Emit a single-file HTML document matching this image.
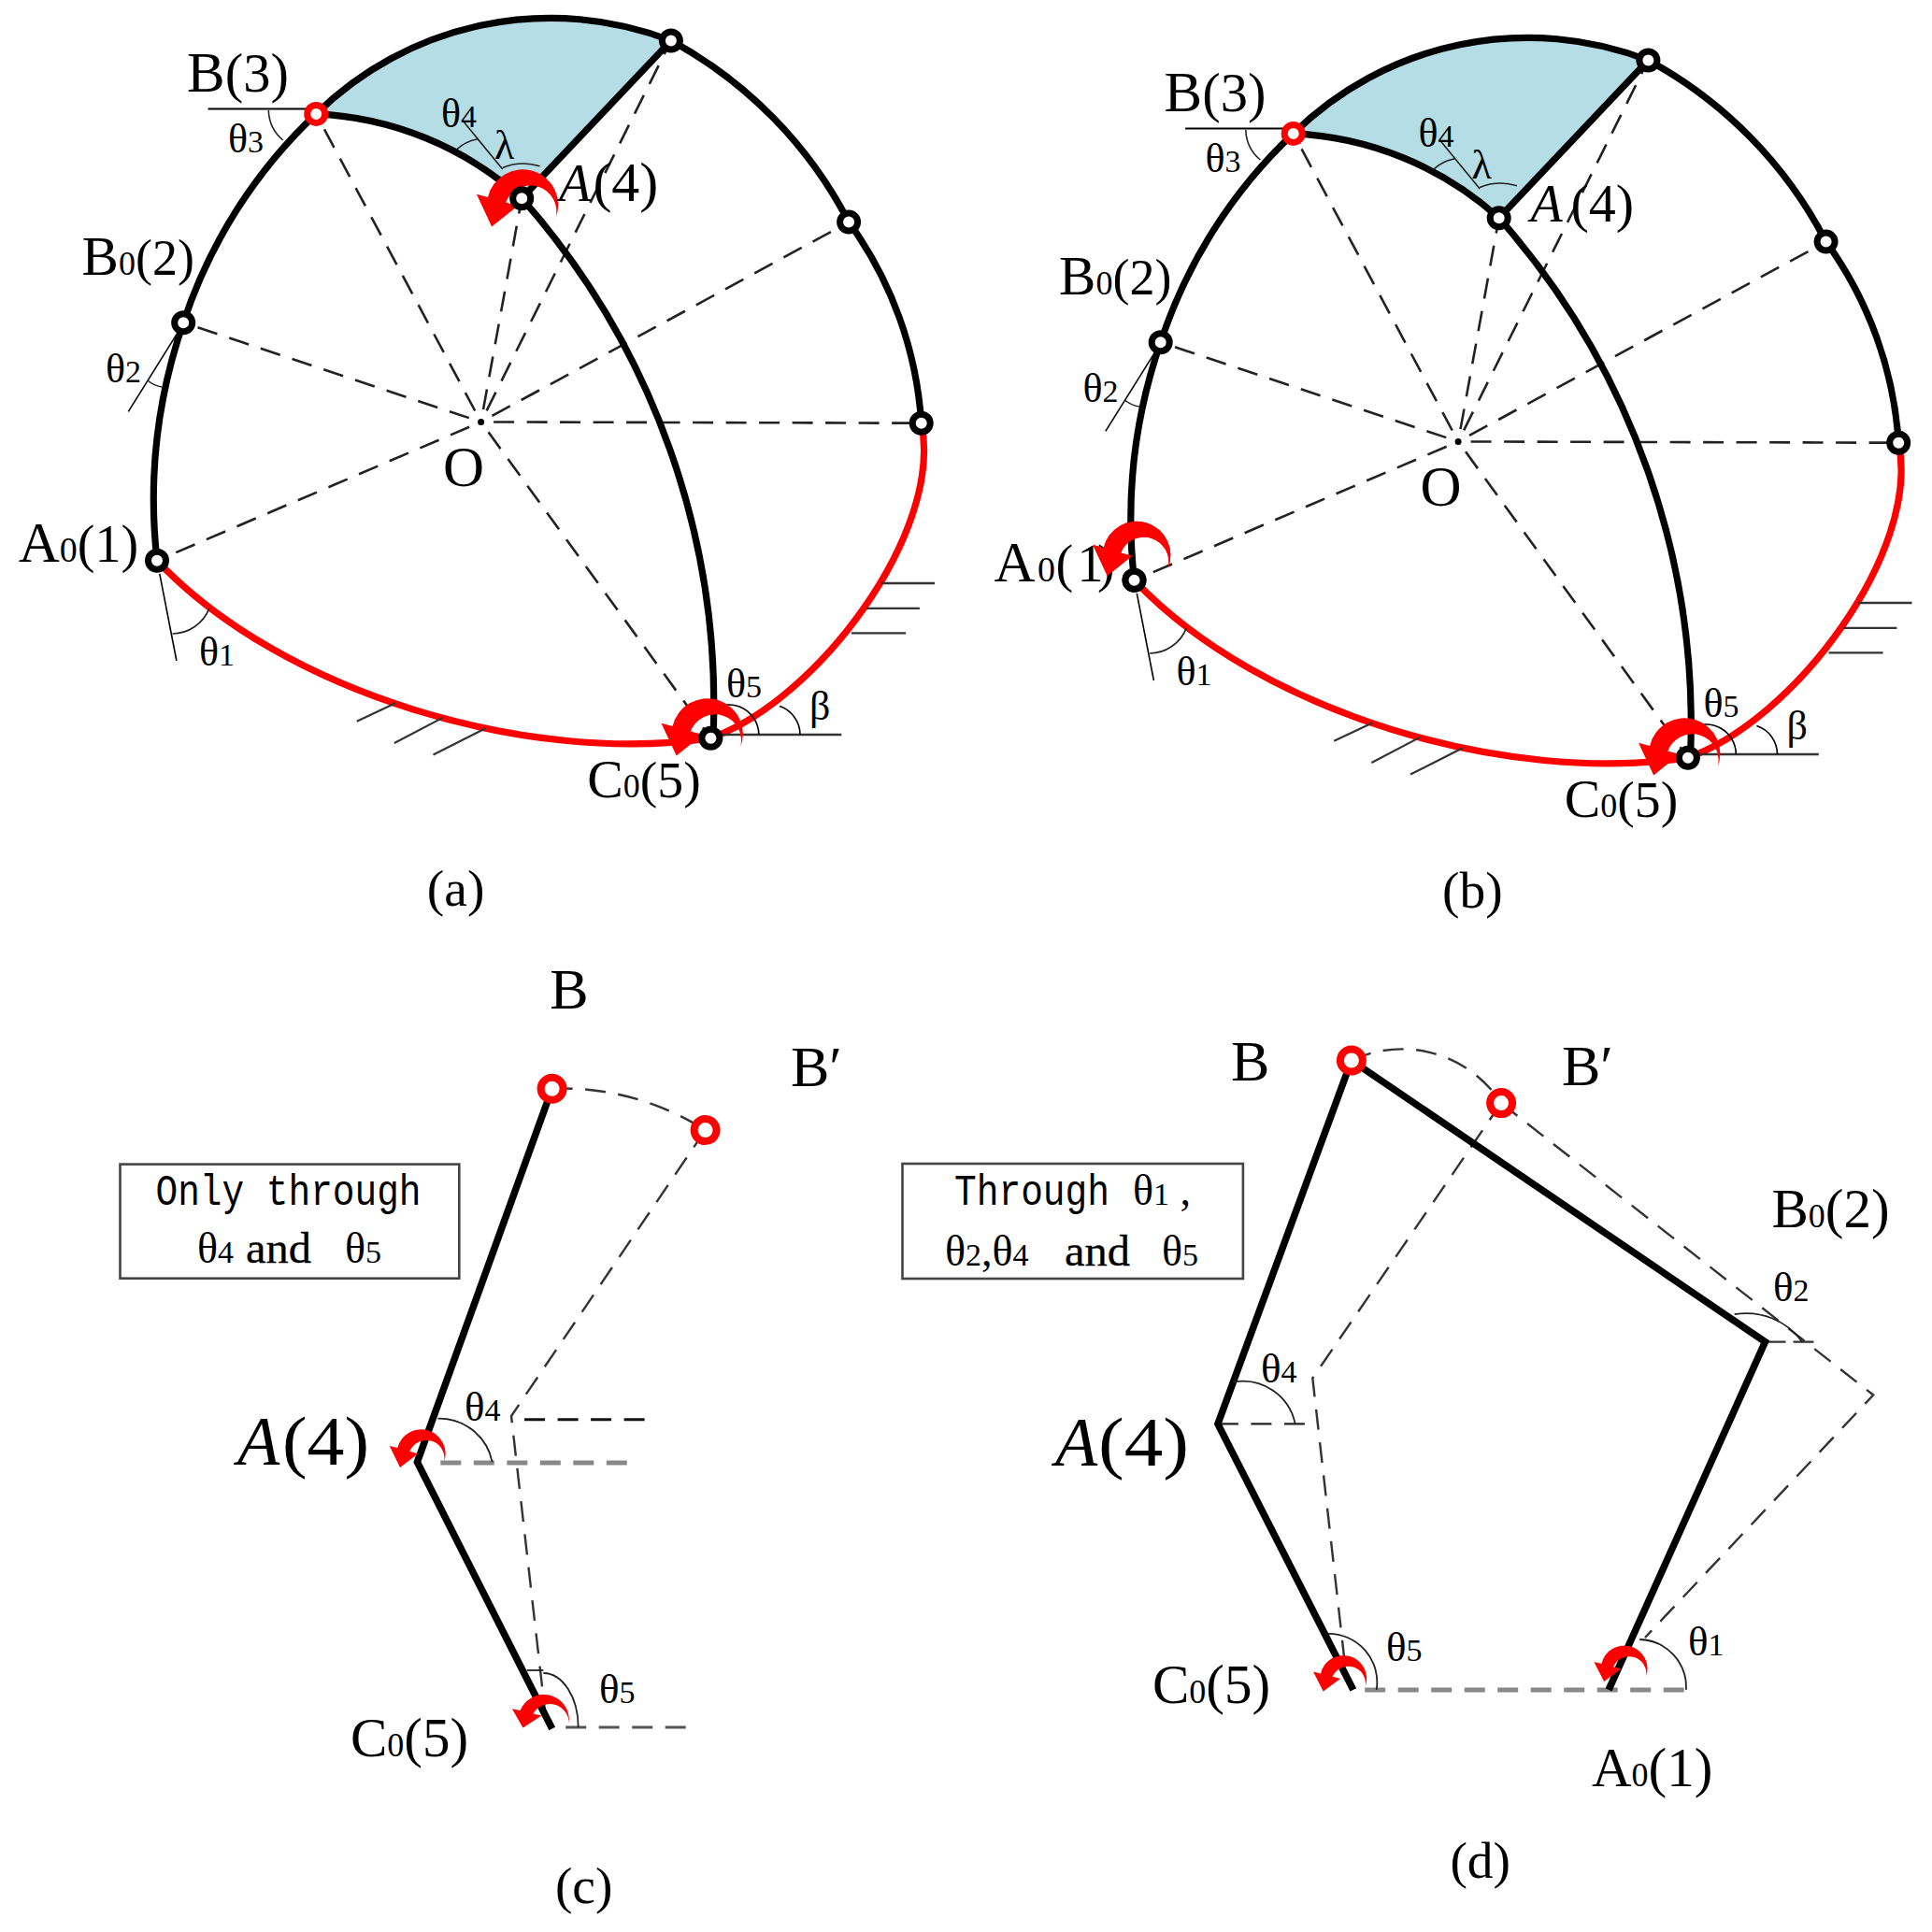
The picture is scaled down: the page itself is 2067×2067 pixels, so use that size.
<!DOCTYPE html><html><head><meta charset="utf-8"><style>html,body{margin:0;padding:0;background:#fff;overflow:hidden;width:2067px;height:2067px;}svg{display:block}</style></head><body>
<svg width="2067" height="2067" viewBox="0 0 2067 2067">
<rect width="2067" height="2067" fill="#fff"/>
<g transform="translate(0,0)">
<path d="M338.2,121.9 A357.4,357.4 0 0 1 717.9,43.5 L558.2,212.2 A352.2,352.2 0 0 0 338.2,121.9 Z" stroke="none" stroke-width="0" fill="#B5DDE5" stroke-linecap="butt"/>
<line x1="514.6" y1="451.4" x2="338.2" y2="121.9" stroke="#222" stroke-width="2.6" stroke-dasharray="22 13.5" stroke-dashoffset="22"/>
<line x1="514.6" y1="451.4" x2="196.2" y2="345.2" stroke="#222" stroke-width="2.6" stroke-dasharray="22 13.5" stroke-dashoffset="22"/>
<line x1="514.6" y1="451.4" x2="168.0" y2="599.8" stroke="#222" stroke-width="2.6" stroke-dasharray="22 13.5" stroke-dashoffset="22"/>
<line x1="514.6" y1="451.4" x2="760.4" y2="789.8" stroke="#222" stroke-width="2.6" stroke-dasharray="22 13.5" stroke-dashoffset="22"/>
<line x1="514.6" y1="451.4" x2="985.7" y2="452.7" stroke="#222" stroke-width="2.6" stroke-dasharray="22 13.5" stroke-dashoffset="22"/>
<line x1="514.6" y1="451.4" x2="908.1" y2="237.6" stroke="#222" stroke-width="2.6" stroke-dasharray="22 13.5" stroke-dashoffset="22"/>
<line x1="514.6" y1="451.4" x2="717.9" y2="43.5" stroke="#222" stroke-width="2.6" stroke-dasharray="22 13.5" stroke-dashoffset="22"/>
<line x1="514.6" y1="451.4" x2="558.2" y2="212.2" stroke="#222" stroke-width="2.6" stroke-dasharray="22 13.5" stroke-dashoffset="22"/>
<circle cx="514.6" cy="451.4" r="3.5" fill="#000"/>
<path d="M168.0,599.8 A581.9,581.9 0 0 1 196.2,345.2" stroke="#000" stroke-width="7.2" fill="none" stroke-linecap="butt"/>
<path d="M196.2,345.2 A537.5,537.5 0 0 1 338.2,121.9" stroke="#000" stroke-width="7.2" fill="none" stroke-linecap="butt"/>
<path d="M338.2,121.9 A357.4,357.4 0 0 1 717.9,43.5" stroke="#000" stroke-width="7.2" fill="none" stroke-linecap="butt"/>
<path d="M717.9,43.5 A463.1,463.1 0 0 1 908.1,237.6" stroke="#000" stroke-width="7.2" fill="none" stroke-linecap="butt"/>
<path d="M908.1,237.6 A410.7,410.7 0 0 1 985.7,452.7" stroke="#000" stroke-width="7.2" fill="none" stroke-linecap="butt"/>
<path d="M338.2,121.9 A352.2,352.2 0 0 1 558.2,212.2" stroke="#000" stroke-width="7.2" fill="none" stroke-linecap="butt"/>
<path d="M558.2,212.2 A816.3,816.3 0 0 1 763.0,789.0" stroke="#000" stroke-width="7.2" fill="none" stroke-linecap="butt"/>
<path d="M558.2,212.2 L717.9,43.5" stroke="#000" stroke-width="7.2" fill="none" stroke-linecap="butt"/>
<path d="M985.7,452.7 C1010.1,569.6 873,750.7 760.2,789.6" stroke="#FF0000" stroke-width="7.2" fill="none" stroke-linecap="butt"/>
<path d="M168,599.8 C303.2,742.9 569.1,819 760.2,789.6" stroke="#FF0000" stroke-width="7.2" fill="none" stroke-linecap="butt"/>
<line x1="222.6" y1="116.5" x2="330.0" y2="116.5" stroke="#000" stroke-width="2"/>
<path d="M287.3,118.0 A43.3,43.3 0 0 0 302.8,150.0" stroke="#222" stroke-width="1.6" fill="none" stroke-linecap="butt"/>
<line x1="189.0" y1="357.6" x2="137.3" y2="440.4" stroke="#000" stroke-width="1.6"/>
<line x1="170.8" y1="613.9" x2="188.9" y2="707.0" stroke="#000" stroke-width="1.6"/>
<line x1="773.0" y1="786.0" x2="900.3" y2="786.0" stroke="#333" stroke-width="2.4"/>
<path d="M762.8,758.9 A32,32 0 0 1 811.8,786.0" stroke="#000" stroke-width="1.6" fill="none" stroke-linecap="butt"/>
<path d="M833.9,755.6 A32,32 0 0 1 856.0,786.0" stroke="#000" stroke-width="1.6" fill="none" stroke-linecap="butt"/>
<line x1="942.6" y1="624.0" x2="1000.0" y2="624.0" stroke="#333" stroke-width="2.4"/>
<line x1="926.8" y1="650.9" x2="983.9" y2="650.9" stroke="#333" stroke-width="2.4"/>
<line x1="911.0" y1="677.4" x2="969.1" y2="677.4" stroke="#333" stroke-width="2.4"/>
<line x1="381.7" y1="771.7" x2="423.1" y2="752.3" stroke="#333" stroke-width="2.2"/>
<line x1="421.9" y1="795.0" x2="473.6" y2="767.9" stroke="#333" stroke-width="2.2"/>
<line x1="463.5" y1="807.6" x2="519.4" y2="779.2" stroke="#333" stroke-width="2.2"/>
<path d="M594.4,233.9 A38.1,38.1 0 1 0 522.0,211.0 L509.9,207.8 L526.1,242.5 L554.0,220.2 L541.2,216.6 A28.0,28.0 0 0 1 594.4,233.9 Z" fill="#FF0000" stroke="none"/>
<path d="M792.0,799.8 A38.1,38.1 0 1 0 719.6,776.9 L707.5,773.7 L723.7,808.4 L751.6,786.1 L738.8,782.5 A28.0,28.0 0 0 1 792.0,799.8 Z" fill="#FF0000" stroke="none"/>
<circle cx="168.0" cy="599.8" r="9.5" fill="#fff" stroke="#000" stroke-width="7"/>
<circle cx="196.2" cy="345.2" r="9.5" fill="#fff" stroke="#000" stroke-width="7"/>
<circle cx="338.2" cy="121.9" r="9.5" fill="#fff" stroke="#FF0000" stroke-width="7"/>
<circle cx="717.9" cy="43.5" r="9.5" fill="#fff" stroke="#000" stroke-width="7"/>
<circle cx="908.1" cy="237.6" r="9.5" fill="#fff" stroke="#000" stroke-width="7"/>
<circle cx="985.7" cy="452.7" r="9.5" fill="#fff" stroke="#000" stroke-width="7"/>
<circle cx="760.4" cy="789.8" r="9.5" fill="#fff" stroke="#000" stroke-width="7"/>
<circle cx="558.2" cy="212.2" r="9.5" fill="#fff" stroke="#000" stroke-width="7"/>
<line x1="496.3" y1="130.6" x2="537.7" y2="181.1" stroke="#222" stroke-width="1.6"/>
<path d="M488.9,159.6 A45.0,45.0 0 0 1 511.2,148.8" stroke="#222" stroke-width="1.6" fill="none" stroke-linecap="butt"/>
<path d="M537.7,179.4 A60.3,60.3 0 0 1 577.5,177.8" stroke="#222" stroke-width="1.6" fill="none" stroke-linecap="butt"/>
<path d="M184.5,678.0 A42.9,42.9 0 0 0 223.8,651.1" stroke="#222" stroke-width="1.6" fill="none" stroke-linecap="butt"/>
<path d="M157.9,407.0 A31.2,31.2 0 0 0 173.4,414.0" stroke="#222" stroke-width="1.6" fill="none" stroke-linecap="butt"/>
<text x="200.1" y="98.3" font-family="Liberation Serif" font-size="61" text-anchor="start" fill="#000"><tspan font-size="61">B</tspan><tspan font-size="58.5">(3)</tspan></text>
<text x="87.6" y="293.7" font-family="Liberation Serif" font-size="59" text-anchor="start" fill="#000"><tspan font-size="59">B</tspan><tspan font-size="36">0</tspan><tspan font-size="54">(2)</tspan></text>
<text x="19.8" y="601.2" font-family="Liberation Serif" font-size="61" text-anchor="start" fill="#000"><tspan font-size="61">A</tspan><tspan font-size="38">0</tspan><tspan font-size="56">(1)</tspan></text>
<text x="474.0" y="520.0" font-family="Liberation Serif" font-size="61" text-anchor="start" fill="#000">O</text>
<text x="628.3" y="853.3" font-family="Liberation Serif" font-size="57.7" text-anchor="start" fill="#000"><tspan font-size="57.7">C</tspan><tspan font-size="36">0</tspan><tspan font-size="55.7">(5)</tspan></text>
<text x="456.8" y="968.9" font-family="Liberation Serif" font-size="55.5" text-anchor="start" fill="#000">(a)</text>
<text x="598.0" y="214.8" font-family="Liberation Serif" font-size="56" text-anchor="start" fill="#000"><tspan font-size="56" font-style="italic">A</tspan></text>
<text x="634.4" y="214.8" font-family="Liberation Serif" font-size="60" text-anchor="start" fill="#000"><tspan font-size="60">(4)</tspan></text>
<text x="244.0" y="163.0" font-family="Liberation Serif" font-size="44" text-anchor="start" fill="#000">θ<tspan font-size="34">3</tspan></text>
<text x="113.0" y="408.9" font-family="Liberation Serif" font-size="44" text-anchor="start" fill="#000">θ<tspan font-size="34">2</tspan></text>
<text x="213.0" y="712.2" font-family="Liberation Serif" font-size="44" text-anchor="start" fill="#000">θ<tspan font-size="34">1</tspan></text>
<text x="472.0" y="135.9" font-family="Liberation Serif" font-size="44" text-anchor="start" fill="#000">θ<tspan font-size="34">4</tspan></text>
<text x="777.0" y="745.9" font-family="Liberation Serif" font-size="44" text-anchor="start" fill="#000">θ<tspan font-size="34">5</tspan></text>
<text x="866.0" y="770.0" font-family="Liberation Serif" font-size="44" text-anchor="start" fill="#000">β</text>
<text x="529.0" y="170.0" font-family="Liberation Serif" font-size="44" text-anchor="start" fill="#000">λ</text>
</g>
<g transform="translate(1045.5,21)">
<path d="M338.2,121.9 A357.4,357.4 0 0 1 717.9,43.5 L558.2,212.2 A352.2,352.2 0 0 0 338.2,121.9 Z" stroke="none" stroke-width="0" fill="#B5DDE5" stroke-linecap="butt"/>
<line x1="514.6" y1="451.4" x2="338.2" y2="121.9" stroke="#222" stroke-width="2.6" stroke-dasharray="22 13.5" stroke-dashoffset="22"/>
<line x1="514.6" y1="451.4" x2="196.2" y2="345.2" stroke="#222" stroke-width="2.6" stroke-dasharray="22 13.5" stroke-dashoffset="22"/>
<line x1="514.6" y1="451.4" x2="168.0" y2="599.8" stroke="#222" stroke-width="2.6" stroke-dasharray="22 13.5" stroke-dashoffset="22"/>
<line x1="514.6" y1="451.4" x2="760.4" y2="789.8" stroke="#222" stroke-width="2.6" stroke-dasharray="22 13.5" stroke-dashoffset="22"/>
<line x1="514.6" y1="451.4" x2="985.7" y2="452.7" stroke="#222" stroke-width="2.6" stroke-dasharray="22 13.5" stroke-dashoffset="22"/>
<line x1="514.6" y1="451.4" x2="908.1" y2="237.6" stroke="#222" stroke-width="2.6" stroke-dasharray="22 13.5" stroke-dashoffset="22"/>
<line x1="514.6" y1="451.4" x2="717.9" y2="43.5" stroke="#222" stroke-width="2.6" stroke-dasharray="22 13.5" stroke-dashoffset="22"/>
<line x1="514.6" y1="451.4" x2="558.2" y2="212.2" stroke="#222" stroke-width="2.6" stroke-dasharray="22 13.5" stroke-dashoffset="22"/>
<circle cx="514.6" cy="451.4" r="3.5" fill="#000"/>
<path d="M168.0,599.8 A581.9,581.9 0 0 1 196.2,345.2" stroke="#000" stroke-width="7.2" fill="none" stroke-linecap="butt"/>
<path d="M196.2,345.2 A537.5,537.5 0 0 1 338.2,121.9" stroke="#000" stroke-width="7.2" fill="none" stroke-linecap="butt"/>
<path d="M338.2,121.9 A357.4,357.4 0 0 1 717.9,43.5" stroke="#000" stroke-width="7.2" fill="none" stroke-linecap="butt"/>
<path d="M717.9,43.5 A463.1,463.1 0 0 1 908.1,237.6" stroke="#000" stroke-width="7.2" fill="none" stroke-linecap="butt"/>
<path d="M908.1,237.6 A410.7,410.7 0 0 1 985.7,452.7" stroke="#000" stroke-width="7.2" fill="none" stroke-linecap="butt"/>
<path d="M338.2,121.9 A352.2,352.2 0 0 1 558.2,212.2" stroke="#000" stroke-width="7.2" fill="none" stroke-linecap="butt"/>
<path d="M558.2,212.2 A816.3,816.3 0 0 1 763.0,789.0" stroke="#000" stroke-width="7.2" fill="none" stroke-linecap="butt"/>
<path d="M558.2,212.2 L717.9,43.5" stroke="#000" stroke-width="7.2" fill="none" stroke-linecap="butt"/>
<path d="M985.7,452.7 C1010.1,569.6 873,750.7 760.2,789.6" stroke="#FF0000" stroke-width="7.2" fill="none" stroke-linecap="butt"/>
<path d="M168,599.8 C303.2,742.9 569.1,819 760.2,789.6" stroke="#FF0000" stroke-width="7.2" fill="none" stroke-linecap="butt"/>
<line x1="222.6" y1="116.5" x2="330.0" y2="116.5" stroke="#000" stroke-width="2"/>
<path d="M287.3,118.0 A43.3,43.3 0 0 0 302.8,150.0" stroke="#222" stroke-width="1.6" fill="none" stroke-linecap="butt"/>
<line x1="189.0" y1="357.6" x2="137.3" y2="440.4" stroke="#000" stroke-width="1.6"/>
<line x1="170.8" y1="613.9" x2="188.9" y2="707.0" stroke="#000" stroke-width="1.6"/>
<line x1="773.0" y1="786.0" x2="900.3" y2="786.0" stroke="#333" stroke-width="2.4"/>
<path d="M762.8,758.9 A32,32 0 0 1 811.8,786.0" stroke="#000" stroke-width="1.6" fill="none" stroke-linecap="butt"/>
<path d="M833.9,755.6 A32,32 0 0 1 856.0,786.0" stroke="#000" stroke-width="1.6" fill="none" stroke-linecap="butt"/>
<line x1="942.6" y1="624.0" x2="1000.0" y2="624.0" stroke="#333" stroke-width="2.4"/>
<line x1="926.8" y1="650.9" x2="983.9" y2="650.9" stroke="#333" stroke-width="2.4"/>
<line x1="911.0" y1="677.4" x2="969.1" y2="677.4" stroke="#333" stroke-width="2.4"/>
<line x1="381.7" y1="771.7" x2="423.1" y2="752.3" stroke="#333" stroke-width="2.2"/>
<line x1="421.9" y1="795.0" x2="473.6" y2="767.9" stroke="#333" stroke-width="2.2"/>
<line x1="463.5" y1="807.6" x2="519.4" y2="779.2" stroke="#333" stroke-width="2.2"/>
<path d="M204.1,586.8 A36.2,36.2 0 1 0 135.3,565.1 L123.8,562.0 L139.2,595.0 L165.7,573.8 L153.6,570.4 A26.6,26.6 0 0 1 204.1,586.8 Z" fill="#FF0000" stroke="none"/>
<path d="M792.0,799.8 A38.1,38.1 0 1 0 719.6,776.9 L707.5,773.7 L723.7,808.4 L751.6,786.1 L738.8,782.5 A28.0,28.0 0 0 1 792.0,799.8 Z" fill="#FF0000" stroke="none"/>
<circle cx="168.0" cy="599.8" r="9.5" fill="#fff" stroke="#000" stroke-width="7"/>
<circle cx="196.2" cy="345.2" r="9.5" fill="#fff" stroke="#000" stroke-width="7"/>
<circle cx="338.2" cy="121.9" r="9.5" fill="#fff" stroke="#FF0000" stroke-width="7"/>
<circle cx="717.9" cy="43.5" r="9.5" fill="#fff" stroke="#000" stroke-width="7"/>
<circle cx="908.1" cy="237.6" r="9.5" fill="#fff" stroke="#000" stroke-width="7"/>
<circle cx="985.7" cy="452.7" r="9.5" fill="#fff" stroke="#000" stroke-width="7"/>
<circle cx="760.4" cy="789.8" r="9.5" fill="#fff" stroke="#000" stroke-width="7"/>
<circle cx="558.2" cy="212.2" r="9.5" fill="#fff" stroke="#000" stroke-width="7"/>
<line x1="496.3" y1="130.6" x2="537.7" y2="181.1" stroke="#222" stroke-width="1.6"/>
<path d="M488.9,159.6 A45.0,45.0 0 0 1 511.2,148.8" stroke="#222" stroke-width="1.6" fill="none" stroke-linecap="butt"/>
<path d="M537.7,179.4 A60.3,60.3 0 0 1 577.5,177.8" stroke="#222" stroke-width="1.6" fill="none" stroke-linecap="butt"/>
<path d="M184.5,678.0 A42.9,42.9 0 0 0 223.8,651.1" stroke="#222" stroke-width="1.6" fill="none" stroke-linecap="butt"/>
<path d="M157.9,407.0 A31.2,31.2 0 0 0 173.4,414.0" stroke="#222" stroke-width="1.6" fill="none" stroke-linecap="butt"/>
<text x="200.1" y="98.3" font-family="Liberation Serif" font-size="61" text-anchor="start" fill="#000"><tspan font-size="61">B</tspan><tspan font-size="58.5">(3)</tspan></text>
<text x="87.6" y="293.7" font-family="Liberation Serif" font-size="59" text-anchor="start" fill="#000"><tspan font-size="59">B</tspan><tspan font-size="36">0</tspan><tspan font-size="54">(2)</tspan></text>
<text x="17.9" y="601.0" font-family="Liberation Serif" font-size="61" text-anchor="start" fill="#000"><tspan font-size="61">A</tspan></text>
<text x="64.5" y="601.0" font-family="Liberation Serif" font-size="38" text-anchor="start" fill="#000"><tspan font-size="38">0</tspan></text>
<text x="84.0" y="601.0" font-family="Liberation Serif" font-size="56" text-anchor="start" fill="#000"><tspan font-size="56">(</tspan></text>
<text x="107.0" y="601.0" font-family="Liberation Serif" font-size="56" text-anchor="start" fill="#000"><tspan font-size="56">1</tspan></text>
<text x="128.5" y="601.0" font-family="Liberation Serif" font-size="56" text-anchor="start" fill="#000"><tspan font-size="56">)</tspan></text>
<text x="474.0" y="520.0" font-family="Liberation Serif" font-size="61" text-anchor="start" fill="#000">O</text>
<text x="628.3" y="853.3" font-family="Liberation Serif" font-size="57.7" text-anchor="start" fill="#000"><tspan font-size="57.7">C</tspan><tspan font-size="36">0</tspan><tspan font-size="55.7">(5)</tspan></text>
<text x="592.0" y="215.8" font-family="Liberation Serif" font-size="56" text-anchor="start" fill="#000"><tspan font-size="56" font-style="italic">A</tspan></text>
<text x="634.9" y="215.8" font-family="Liberation Serif" font-size="58" text-anchor="start" fill="#000"><tspan font-size="58">(4)</tspan></text>
<text x="244.0" y="163.0" font-family="Liberation Serif" font-size="44" text-anchor="start" fill="#000">θ<tspan font-size="34">3</tspan></text>
<text x="113.0" y="408.9" font-family="Liberation Serif" font-size="44" text-anchor="start" fill="#000">θ<tspan font-size="34">2</tspan></text>
<text x="213.0" y="712.2" font-family="Liberation Serif" font-size="44" text-anchor="start" fill="#000">θ<tspan font-size="34">1</tspan></text>
<text x="472.0" y="135.9" font-family="Liberation Serif" font-size="44" text-anchor="start" fill="#000">θ<tspan font-size="34">4</tspan></text>
<text x="777.0" y="745.9" font-family="Liberation Serif" font-size="44" text-anchor="start" fill="#000">θ<tspan font-size="34">5</tspan></text>
<text x="866.0" y="770.0" font-family="Liberation Serif" font-size="44" text-anchor="start" fill="#000">β</text>
<text x="529.0" y="170.0" font-family="Liberation Serif" font-size="44" text-anchor="start" fill="#000">λ</text>
<path d="M204.1,586.8 A36.2,36.2 0 1 0 135.3,565.1 L123.8,562.0 L139.2,595.0 L165.7,573.8 L153.6,570.4 A26.6,26.6 0 0 1 204.1,586.8 Z" fill="#FF0000" stroke="none"/>
<circle cx="168.0" cy="599.8" r="9.5" fill="#fff" stroke="#000" stroke-width="7"/>
</g>
<text x="1543.0" y="971.0" font-family="Liberation Serif" font-size="55.5" text-anchor="start" fill="#000">(b)</text>
<rect x="128.5" y="1245.6" width="362.8" height="122.1" fill="none" stroke="#444" stroke-width="2.6"/>
<text x="166.5" y="1288.8" font-family="Liberation Mono" font-size="46" textLength="284" lengthAdjust="spacingAndGlyphs">Only through</text>
<text x="211.0" y="1350.9" font-family="Liberation Serif" font-size="46" text-anchor="start" fill="#000">θ<tspan font-size="34">4</tspan></text>
<text x="263" y="1350.9" font-family="Liberation Serif" font-size="46" stroke="#000" stroke-width="0.3" textLength="70" lengthAdjust="spacingAndGlyphs">and</text>
<text x="369.0" y="1350.9" font-family="Liberation Serif" font-size="46" text-anchor="start" fill="#000">θ<tspan font-size="34">5</tspan></text>
<path d="M590.6,1164.8 A282.6,282.6 0 0 1 754.6,1209.1" stroke="#333" stroke-width="2.4" fill="none" stroke-linecap="butt" stroke-dasharray="22 13.5"/>
<path d="M754.6,1209.1 L547.0,1515.0 L585,1848" stroke="#333" stroke-width="2.4" fill="none" stroke-linecap="butt" stroke-dasharray="22 13.5"/>
<line x1="561.1" y1="1518.8" x2="691.0" y2="1518.8" stroke="#111" stroke-width="3" stroke-dasharray="22 13.5" stroke-dashoffset="0"/>
<line x1="463.3" y1="1565.0" x2="672.0" y2="1565.0" stroke="#888" stroke-width="5" stroke-dasharray="22 13.5" stroke-dashoffset="-8"/>
<line x1="605.2" y1="1848.0" x2="736.0" y2="1848.0" stroke="#555" stroke-width="3.2" stroke-dasharray="22 13.5" stroke-dashoffset="0"/>
<path d="M590.6,1164.8 L446.4,1564.2 L590.7,1849.5" stroke="#000" stroke-width="7.5" fill="none" stroke-linecap="butt"/>
<path d="M468.4,1517.6 A58.2,58.2 0 0 1 526.7,1564.2" stroke="#222" stroke-width="1.8" fill="none" stroke-linecap="butt"/>
<path d="M581.4,1790 A37.5,58 0 0 1 618.7,1848" stroke="#222" stroke-width="1.8" fill="none" stroke-linecap="butt"/>
<line x1="563.8" y1="1787.0" x2="581.4" y2="1787.0" stroke="#222" stroke-width="1.8"/>
<path d="M475.1,1564.2 A26.1,26.1 0 1 0 425.2,1549.1 L416.8,1547.0 L428.0,1569.9 L447.3,1555.2 L438.4,1552.8 A19.3,19.3 0 0 1 475.1,1564.2 Z" fill="#FF0000" stroke="none"/>
<path d="M608.7,1843.4 A27.1,27.1 0 0 0 556.6,1830.1 L547.9,1828.3 L559.5,1848.4 L579.6,1835.4 L570.4,1833.4 A20.5,20.5 0 0 1 608.7,1843.4 Z" fill="#FF0000" stroke="none"/>
<circle cx="590.6" cy="1164.8" r="12" fill="#fff" stroke="#FF0000" stroke-width="8"/>
<circle cx="754.6" cy="1209.1" r="12" fill="#fff" stroke="#FF0000" stroke-width="8"/>
<text x="588.2" y="1078.7" font-family="Liberation Serif" font-size="62" text-anchor="start" fill="#000">B</text>
<text x="846.0" y="1161.5" font-family="Liberation Serif" font-size="62" text-anchor="start" fill="#000">B′</text>
<text x="253.9" y="1567.0" font-family="Liberation Serif" font-size="74" text-anchor="start" fill="#000"><tspan font-size="74" font-style="italic">A</tspan></text>
<text x="302" y="1567" font-family="Liberation Serif" font-size="75" textLength="93" lengthAdjust="spacingAndGlyphs">(4)</text>
<text x="497.0" y="1520.2" font-family="Liberation Serif" font-size="45" text-anchor="start" fill="#000">θ<tspan font-size="34">4</tspan></text>
<text x="641.0" y="1822.1" font-family="Liberation Serif" font-size="45" text-anchor="start" fill="#000">θ<tspan font-size="34">5</tspan></text>
<text x="375.0" y="1878.7" font-family="Liberation Serif" font-size="59" text-anchor="start" fill="#000">C<tspan font-size="36">0</tspan>(5)</text>
<text x="593.9" y="2036.0" font-family="Liberation Serif" font-size="55.5" text-anchor="start" fill="#000">(c)</text>
<rect x="965.5" y="1245" width="364.4" height="123" fill="none" stroke="#444" stroke-width="2.6"/>
<text x="1021" y="1289" font-family="Liberation Mono" font-size="46" textLength="166" lengthAdjust="spacingAndGlyphs">Through</text>
<text x="1212.0" y="1289.0" font-family="Liberation Serif" font-size="46" text-anchor="start" fill="#000">θ<tspan font-size="34">1</tspan> ,</text>
<text x="1011.0" y="1353.7" font-family="Liberation Serif" font-size="46" text-anchor="start" fill="#000">θ<tspan font-size="34">2</tspan>,θ<tspan font-size="34">4</tspan></text>
<text x="1139" y="1353.7" font-family="Liberation Serif" font-size="46" stroke="#000" stroke-width="0.3" textLength="70" lengthAdjust="spacingAndGlyphs">and</text>
<text x="1243.0" y="1353.7" font-family="Liberation Serif" font-size="46" text-anchor="start" fill="#000">θ<tspan font-size="34">5</tspan></text>
<path d="M1445.9,1134.5 A126.5,126.5 0 0 1 1606.1,1180.1" stroke="#333" stroke-width="2.4" fill="none" stroke-linecap="butt" stroke-dasharray="22 13.5"/>
<path d="M1606.1,1180.1 L1404.3,1474.5 L1440,1790" stroke="#333" stroke-width="2.4" fill="none" stroke-linecap="butt" stroke-dasharray="22 13.5"/>
<path d="M1606.1,1180.1 L2004.2,1492.5 L1760,1752" stroke="#333" stroke-width="2.4" fill="none" stroke-linecap="butt" stroke-dasharray="22 13.5"/>
<line x1="1302.9" y1="1523.4" x2="1402.3" y2="1523.4" stroke="#222" stroke-width="2.4" stroke-dasharray="22 13.5" stroke-dashoffset="0"/>
<line x1="1460.2" y1="1807.9" x2="1803.9" y2="1807.9" stroke="#888" stroke-width="5" stroke-dasharray="22 13.5" stroke-dashoffset="0"/>
<line x1="1888.5" y1="1435.6" x2="1945.5" y2="1435.6" stroke="#333" stroke-width="2.2" stroke-dasharray="22 8" stroke-dashoffset="0"/>
<path d="M1445.9,1134.5 L1302.9,1523.4 L1447.8,1807.9" stroke="#000" stroke-width="7.5" fill="none" stroke-linecap="butt"/>
<path d="M1445.9,1134.5 L1888.5,1435.6 L1721.1,1807.9" stroke="#000" stroke-width="7.5" fill="none" stroke-linecap="butt"/>
<path d="M1319.5,1478.7 A57.2,57.2 0 0 1 1385.7,1523.4" stroke="#222" stroke-width="1.8" fill="none" stroke-linecap="butt"/>
<path d="M1420.9,1747.8 A52.0,52.0 0 0 1 1472.7,1807.9" stroke="#222" stroke-width="1.8" fill="none" stroke-linecap="butt"/>
<path d="M1754.2,1754.0 A51.2,51.2 0 0 1 1803.9,1807.9" stroke="#222" stroke-width="1.8" fill="none" stroke-linecap="butt"/>
<path d="M1855.7,1406.2 A73.6,73.6 0 0 1 1928.2,1435.6" stroke="#222" stroke-width="1.8" fill="none" stroke-linecap="butt"/>
<path d="M1460.8,1804.2 A24.9,24.9 0 1 0 1413.0,1790.5 L1405.0,1788.6 L1415.7,1809.4 L1434.1,1796.0 L1425.6,1793.8 A18.5,18.5 0 0 1 1460.8,1804.2 Z" fill="#FF0000" stroke="none"/>
<path d="M1761.2,1793.7 A24.9,24.9 0 1 0 1713.4,1780.0 L1705.4,1778.1 L1716.1,1798.9 L1734.5,1785.5 L1726.0,1783.3 A18.5,18.5 0 0 1 1761.2,1793.7 Z" fill="#FF0000" stroke="none"/>
<circle cx="1445.9" cy="1134.5" r="12" fill="#fff" stroke="#FF0000" stroke-width="8"/>
<circle cx="1606.1" cy="1180.1" r="12" fill="#fff" stroke="#FF0000" stroke-width="8"/>
<text x="1317.0" y="1155.8" font-family="Liberation Serif" font-size="62" text-anchor="start" fill="#000">B</text>
<text x="1671.0" y="1161.1" font-family="Liberation Serif" font-size="62" text-anchor="start" fill="#000">B′</text>
<text x="1895.5" y="1313.0" font-family="Liberation Serif" font-size="59" text-anchor="start" fill="#000">B<tspan font-size="36">0</tspan>(2)</text>
<text x="1897.0" y="1392.4" font-family="Liberation Serif" font-size="45" text-anchor="start" fill="#000">θ<tspan font-size="34">2</tspan></text>
<text x="1128.9" y="1568.0" font-family="Liberation Serif" font-size="74" text-anchor="start" fill="#000"><tspan font-size="74" font-style="italic">A</tspan></text>
<text x="1175" y="1568" font-family="Liberation Serif" font-size="75" textLength="97" lengthAdjust="spacingAndGlyphs">(4)</text>
<text x="1349.0" y="1478.7" font-family="Liberation Serif" font-size="45" text-anchor="start" fill="#000">θ<tspan font-size="34">4</tspan></text>
<text x="1483.0" y="1776.8" font-family="Liberation Serif" font-size="45" text-anchor="start" fill="#000">θ<tspan font-size="34">5</tspan></text>
<text x="1806.0" y="1770.6" font-family="Liberation Serif" font-size="45" text-anchor="start" fill="#000">θ<tspan font-size="34">1</tspan></text>
<text x="1233.0" y="1822.4" font-family="Liberation Serif" font-size="59" text-anchor="start" fill="#000">C<tspan font-size="36">0</tspan>(5)</text>
<text x="1703.0" y="1911.4" font-family="Liberation Serif" font-size="59" text-anchor="start" fill="#000">A<tspan font-size="36">0</tspan>(1)</text>
<text x="1551.4" y="2009.4" font-family="Liberation Serif" font-size="55.5" text-anchor="start" fill="#000">(d)</text>
</svg></body></html>
